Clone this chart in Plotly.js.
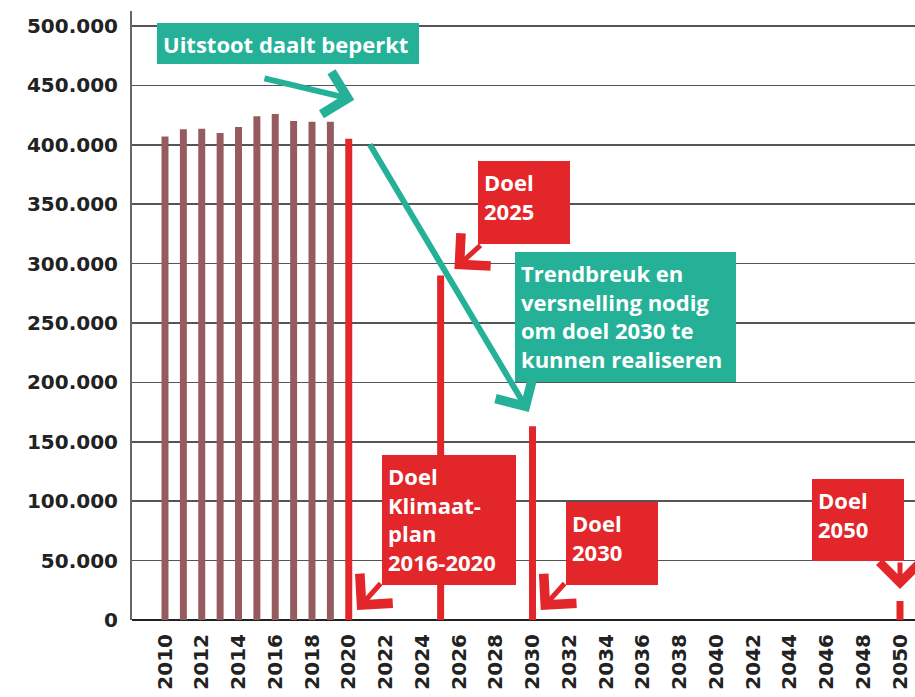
<!DOCTYPE html>
<html><head><meta charset="utf-8">
<script src="https://cdn.plot.ly/plotly-3.0.1.min.js"></script>
<style>html,body{margin:0;padding:0;background:#fff}</style>
</head><body>
<div id="chart" style="width:915px;height:697px"></div>
<script>
// Historical emissions (brown bars)
const historyYears = [2010, 2011, 2012, 2013, 2014, 2015, 2016, 2017, 2018, 2019];
const historyValues = [407000, 413000, 413500, 410000, 415000, 424000, 426000, 420000, 419500, 419500];
// Targets (red bars)
const targetYears = [2020, 2025, 2030, 2050];
const targetValues = [405000, 290000, 163000, 16000];
// Axis ticks
const xTickVals = [2010, 2012, 2014, 2016, 2018, 2020, 2022, 2024, 2026, 2028, 2030, 2032, 2034, 2036, 2038, 2040, 2042, 2044, 2046, 2048, 2050];
const yTickVals = [0, 50000, 100000, 150000, 200000, 250000, 300000, 350000, 400000, 450000, 500000];

const BROWN = '#965b5f', RED = '#e3262a', TEAL = '#24b197';
const annFont = {family: 'Open Sans', size: 22, weight: 700, color: '#ffffff'};

const traces = [
  {type: 'bar', x: historyYears, y: historyValues, width: 0.38, marker: {color: BROWN}, hoverinfo: 'skip'},
  {type: 'bar', x: targetYears, y: targetValues, width: 0.38, marker: {color: RED}, hoverinfo: 'skip'}
];

function box(text, x, y, w, h, color, valign) {
  return {text: text, x: x, y: y, xref: 'x', yref: 'y', xanchor: 'left', yanchor: 'top',
    showarrow: false, width: w, height: h, bgcolor: color, borderpad: 6, borderwidth: 0,
    align: 'left', valign: valign || 'top', font: annFont};
}
function arrow(x, y, ax, ay, color, w, size) {
  return {text: '', x: x, y: y, ax: ax, ay: ay, xref: 'x', yref: 'y', axref: 'x', ayref: 'y',
    showarrow: true, arrowhead: 4, arrowsize: size, arrowwidth: w, arrowcolor: color, standoff: 0};
}

const annotations = [
  box('Uitstoot daalt beperkt', 2009.565, 502500, 250, 29, TEAL, 'middle'),
  box('Doel<br>2025', 2027.034, 386400, 80, 71, RED),
  box('Trendbreuk en<br>versnelling nodig<br>om doel 2030 te<br>kunnen realiseren', 2029.048, 309800, 209, 118, TEAL),
  box('Doel<br>Klimaat-<br>plan<br>2016-2020', 2021.81, 138900, 122, 118, RED),
  box('Doel<br>2030', 2031.823, 99300, 80, 71, RED),
  box('Doel<br>2050', 2045.211, 118700, 80, 70, RED),
  arrow(2020.3, 438000, 2015.33, 456200, TEAL, 6, 1.4),
  arrow(2029.8, 175000, 2021.10, 401500, TEAL, 6, 1.4),
  arrow(2020.45, 8500, 2021.81, 32000, RED, 5, 1.7),
  arrow(2025.75, 295500, 2027.25, 316500, RED, 5, 1.7),
  arrow(2030.45, 8500, 2031.82, 32000, RED, 5, 1.7),
  arrow(2050.0, 26000, 2050.0, 49700, RED, 5, 1.6)
];

const layout = {
  width: 915, height: 697,
  margin: {l: 132, r: 0, t: 11, b: 77},
  paper_bgcolor: '#fff', plot_bgcolor: '#fff',
  showlegend: false, barmode: 'overlay',
  separators: ',.',
  font: {family: 'DejaVu Sans', color: '#222'},
  xaxis: {range: [2008.204, 2050.816], tickvals: xTickVals, tickangle: -90, ticks: '',
    showgrid: false, zeroline: false, showline: false, fixedrange: true,
    tickfont: {family: 'DejaVu Sans', size: 20, weight: 700, color: '#222'}, ticklabelstandoff: 9},
  yaxis: {range: [0, 512626], tickvals: yTickVals, tickformat: ',d', ticks: '',
    showgrid: true, gridcolor: '#555', gridwidth: 1.5,
    showline: true, linecolor: '#666', linewidth: 2,
    zeroline: true, zerolinecolor: '#222', zerolinewidth: 2, fixedrange: true,
    tickfont: {family: 'DejaVu Sans', size: 20, weight: 700, color: '#222'}, ticklabelstandoff: 8},
  annotations: annotations
};

Plotly.newPlot('chart', traces, layout, {displayModeBar: false, staticPlot: true});
</script>
</body></html>
